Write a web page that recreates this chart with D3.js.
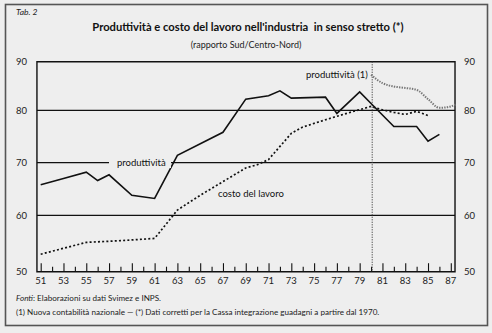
<!DOCTYPE html>
<html>
<head>
<meta charset="utf-8">
<script src="https://cdn.jsdelivr.net/npm/d3@7"></script>
<style>
  html, body { margin: 0; padding: 0; background: #eeeeee; }
  svg { display: block; font-family: Lato, "Noto Sans", sans-serif; }
</style>
</head>
<body>
<svg id="chart" width="492" height="333"></svg>
<script>
// Productivity and labour cost in industry, South / Centre-North ratio
const yearTicks = d3.range(51, 88);          // one tick per year
const yearLabels = d3.range(51, 88, 2);      // labelled odd years
const valueTicks = [50, 60, 70, 80, 90];

// produttività (solid line), old national accounts
const prodYears  = [51, 53, 55, 56, 57, 59, 61, 63, 67, 69, 71, 72, 73, 76, 77, 79, 80, 82, 84, 85, 86];
const prodValues = [65.8, 67.0, 68.2, 66.6, 67.7, 63.8, 63.2, 71.4, 75.8, 82.3, 83.0, 84.0, 82.5, 82.7, 79.4, 83.8, 81.4, 76.9, 76.9, 74.1, 75.4];

// produttività (1), new national accounts
const prodNewYears  = [80, 81, 82, 83, 84, 85, 86, 87, 87.4];
const prodNewValues = [87.3, 85.6, 84.9, 84.6, 84.2, 82.3, 80.5, 80.8, 81.2];

// costo del lavoro (dotted line)
const costYears  = [51, 55, 58, 61, 63, 65, 69, 70, 71, 73, 74, 76, 78, 80, 81, 82, 83, 84, 85];
const costValues = [53.1, 55.2, 55.5, 55.9, 61.0, 63.8, 69.0, 69.6, 70.6, 75.6, 76.8, 78.2, 79.5, 80.8, 80.1, 79.6, 79.2, 79.8, 79.0];

const svg = d3.select("#chart");

const x = d3.scaleLinear().domain([51, 87]).range([40.7, 450.8]);
const y = d3.scaleLinear().domain(valueTicks).range([271.7, 215.3, 162.7, 110.3, 61.7]);
const xLeft = x(50.67), xRight = x(87.37);

// outer frame
svg.append("rect").attr("x", 5.5).attr("y", 4.5).attr("width", 482).attr("height", 321)
  .attr("fill", "none").attr("stroke", "#555").attr("stroke-width", 1.6);

// titles
svg.append("text").attr("x", 16).attr("y", 15).attr("font-size", 8.5).attr("font-style", "italic")
  .attr("fill", "#222").text("Tab. 2");
svg.append("text").attr("x", 248).attr("y", 31).attr("text-anchor", "middle")
  .attr("font-size", 11.2).attr("font-weight", "bold").attr("fill", "#111")
  .text("Produttività e costo del lavoro nell'industria\u00a0 in senso stretto (*)");
svg.append("text").attr("x", 246).attr("y", 48).attr("text-anchor", "middle")
  .attr("font-size", 9).attr("fill", "#222").text("(rapporto Sud/Centro-Nord)");

// horizontal reference lines
svg.append("g").selectAll("line").data([60, 70, 80]).join("line")
  .attr("x1", xLeft).attr("x2", xRight)
  .attr("y1", d => y(d)).attr("y2", d => y(d))
  .attr("stroke", "#111").attr("stroke-width", 1.3);

// plot frame: top at 90, side axes, baseline
svg.append("path")
  .attr("d", `M${xLeft},${y(50)}V${y(90)}H${xRight}V${y(50)}Z`)
  .attr("fill", "none").attr("stroke", "#111").attr("stroke-width", 1.4);

// value labels on both sides
const yLabels = svg.append("g").attr("font-size", 9.5).attr("fill", "#222");
yLabels.selectAll(".l").data(valueTicks).join("text").attr("class", "l")
  .attr("x", 27).attr("y", d => y(d) + 3.5).attr("text-anchor", "end").text(d => d);
yLabels.selectAll(".r").data(valueTicks).join("text").attr("class", "r")
  .attr("x", 464).attr("y", d => y(d) + 3.5).text(d => d);

// year axis: tall ticks on odd years, short on even years
const xAxis = d3.axisTop(x).tickValues(yearTicks).tickFormat("").tickSizeOuter(0);
const gx = svg.append("g").attr("transform", `translate(0,${y(50)})`).call(xAxis);
gx.select(".domain").remove();
gx.selectAll(".tick line")
  .attr("y2", d => d % 2 === 1 ? -8.5 : -5)
  .attr("stroke", "#111").attr("stroke-width", 1.1);
svg.append("g").attr("font-size", 9.5).attr("fill", "#222")
  .selectAll("text").data(yearLabels).join("text")
  .attr("x", d => x(d)).attr("y", 284).attr("text-anchor", "middle").text(d => d);

// break in the series at 1980
svg.append("line").attr("x1", x(80.1)).attr("x2", x(80.1)).attr("y1", y(90)).attr("y2", y(50))
  .attr("stroke", "#444").attr("stroke-width", 1).attr("stroke-dasharray", "1.2,1.3");

const line = d3.line().x(d => x(d[0])).y(d => y(d[1]));
const smooth = d3.line().curve(d3.curveMonotoneX).x(d => x(d[0])).y(d => y(d[1]));

svg.append("path").datum(d3.zip(costYears, costValues)).attr("d", line)
  .attr("fill", "none").attr("stroke", "#111").attr("stroke-width", 1.7)
  .attr("stroke-dasharray", "2,2.2");

svg.append("path").datum(d3.zip(prodNewYears, prodNewValues)).attr("d", smooth)
  .attr("fill", "none").attr("stroke", "#777").attr("stroke-width", 2)
  .attr("stroke-dasharray", "1.4,1.2");

svg.append("path").datum(d3.zip(prodYears, prodValues)).attr("d", line)
  .attr("fill", "none").attr("stroke", "#111").attr("stroke-width", 1.6)
  .attr("stroke-linejoin", "miter");

// series labels
svg.append("rect").attr("x", 109).attr("y", 157).attr("width", 62).attr("height", 11).attr("fill", "#eeeeee");
const lab = svg.append("g").attr("font-size", 9.5).attr("fill", "#111");
lab.append("text").attr("x", 117).attr("y", 166).text("produttività");
lab.append("text").attr("x", 218).attr("y", 197).text("costo del lavoro");
lab.append("text").attr("x", 306).attr("y", 78).text("produttività (1)");

// sources and notes
const notes = svg.append("g").attr("font-size", 8.1).attr("fill", "#222");
const n1 = notes.append("text").attr("x", 16).attr("y", 301);
n1.append("tspan").attr("font-style", "italic").text("Fonti");
n1.append("tspan").text(": Elaborazioni su dati Svimez e INPS.");
notes.append("text").attr("x", 16).attr("y", 315)
  .text("(1) Nuova contabilità nazionale — (*) Dati corretti per la Cassa integrazione guadagni a partire dal 1970.");
</script>
</body>
</html>
